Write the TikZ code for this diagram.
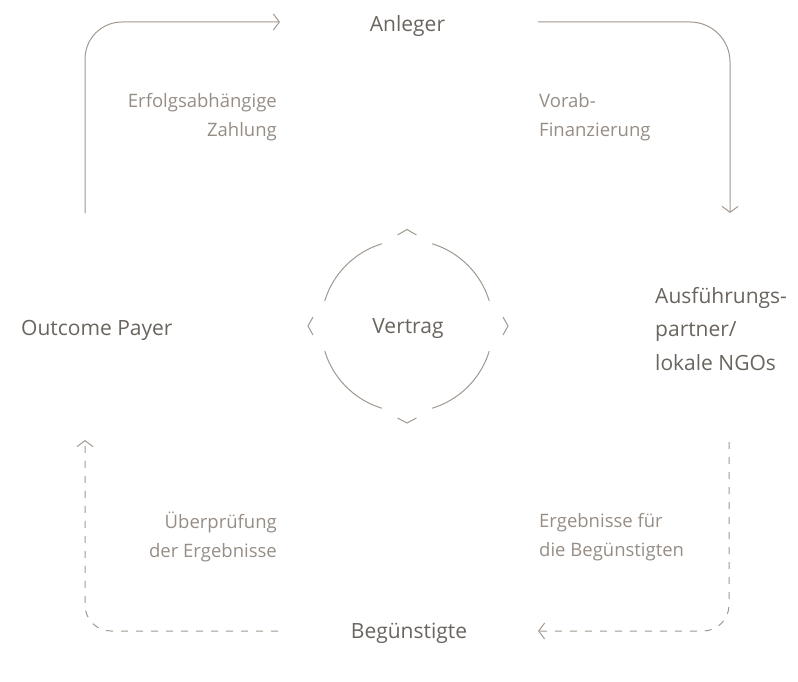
\documentclass[tikz,border=0pt]{standalone}
\usepackage{fontspec}
\setmainfont{Open Sans}
\usetikzlibrary{arrows.meta}
\definecolor{linegray}{HTML}{A1988F}
\definecolor{maintext}{HTML}{6A645E}
\definecolor{subtext}{HTML}{968D85}
\tikzset{
  flow/.style={draw=linegray, line width=1pt, -{Straight Barb[length=6pt,width=16pt,line width=1pt]}},
  back/.style={flow, dash pattern=on 7pt off 8pt},
  ring/.style={draw=linegray, line width=1pt},
  chev/.style={draw=linegray, line width=1pt, line join=miter},
  party/.style={text=maintext, font=\fontsize{21}{25}\selectfont, inner sep=0pt},
  flowlabel/.style={text=subtext, font=\fontsize{18.5}{29}\selectfont, inner sep=0pt},
}
\begin{document}
\begin{tikzpicture}[x=1pt,y=-1pt]
\useasboundingbox (0,0) rectangle (798,682);

% parties
\node[party, anchor=base] (anleger) at (407.5,31.5) {Anleger};
\node[party, anchor=base west] (payer) at (21,335) {Outcome Payer};
\node[party, anchor=west, align=left, font=\fontsize{21}{33.5}\selectfont] (ngo) at (655,329) {Ausführungs-\\partner/\\lokale NGOs};
\node[party, anchor=base] (benef) at (409,638) {Begünstigte};
\node[party, anchor=base] (vertrag) at (408,333.5) {Vertrag};
\coordinate (ringc) at (407,326);

% flow labels
\node[flowlabel, anchor=east, align=right] (lblpay) at (277,117) {Erfolgsabhängige\\Zahlung};
\node[flowlabel, anchor=west, align=left] (lblfin) at (539,117) {Vorab-\\Finanzierung};
\node[flowlabel, anchor=east, align=right] (lblcheck) at (277,537) {Überprüfung\\der Ergebnisse};
\node[flowlabel, anchor=west, align=left] (lblres) at (539,537) {Ergebnisse für\\die Begünstigten};

% connector end points
\coordinate (payerTop) at (85,213);
\coordinate (anlegerIn) at (280,22);
\coordinate (anlegerOut) at (538,22);
\coordinate (ngoIn) at (730,213);
\coordinate (ngoOut) at (729,442);
\coordinate (benefIn) at (538,631);
\coordinate (benefOut) at (278,631);
\coordinate (payerIn) at (85,440);

% money flows
\draw[flow, rounded corners=37pt] (payerTop) |- (anlegerIn);
\draw[flow, rounded corners=40pt] (anlegerOut) -| (ngoIn);
% result flows
\draw[back, rounded corners=26pt] (ngoOut) |- (benefIn);
\draw[back, rounded corners=26pt] (benefOut) -| (payerIn);

% contract ring around Vertrag, open at the four compass points
\foreach \a in {0,90,180,270}
  \draw[ring] (ringc) ++(\a+17:86pt) arc[start angle=\a+17, end angle=\a+73, radius=86pt];
% chevrons in the ring gaps
\draw[chev] (ringc) ++(-9.5,-91) -- ++(9.5,-5.5) -- ++(9.5,5.5);
\draw[chev] (ringc) ++(-9.5,92) -- ++(9.5,5) -- ++(9.5,-5);
\draw[chev] (ringc) ++(-94,-9) -- ++(-5,9) -- ++(5,9);
\draw[chev] (ringc) ++(96,-9) -- ++(5,9) -- ++(-5,9);
\end{tikzpicture}
\end{document}
